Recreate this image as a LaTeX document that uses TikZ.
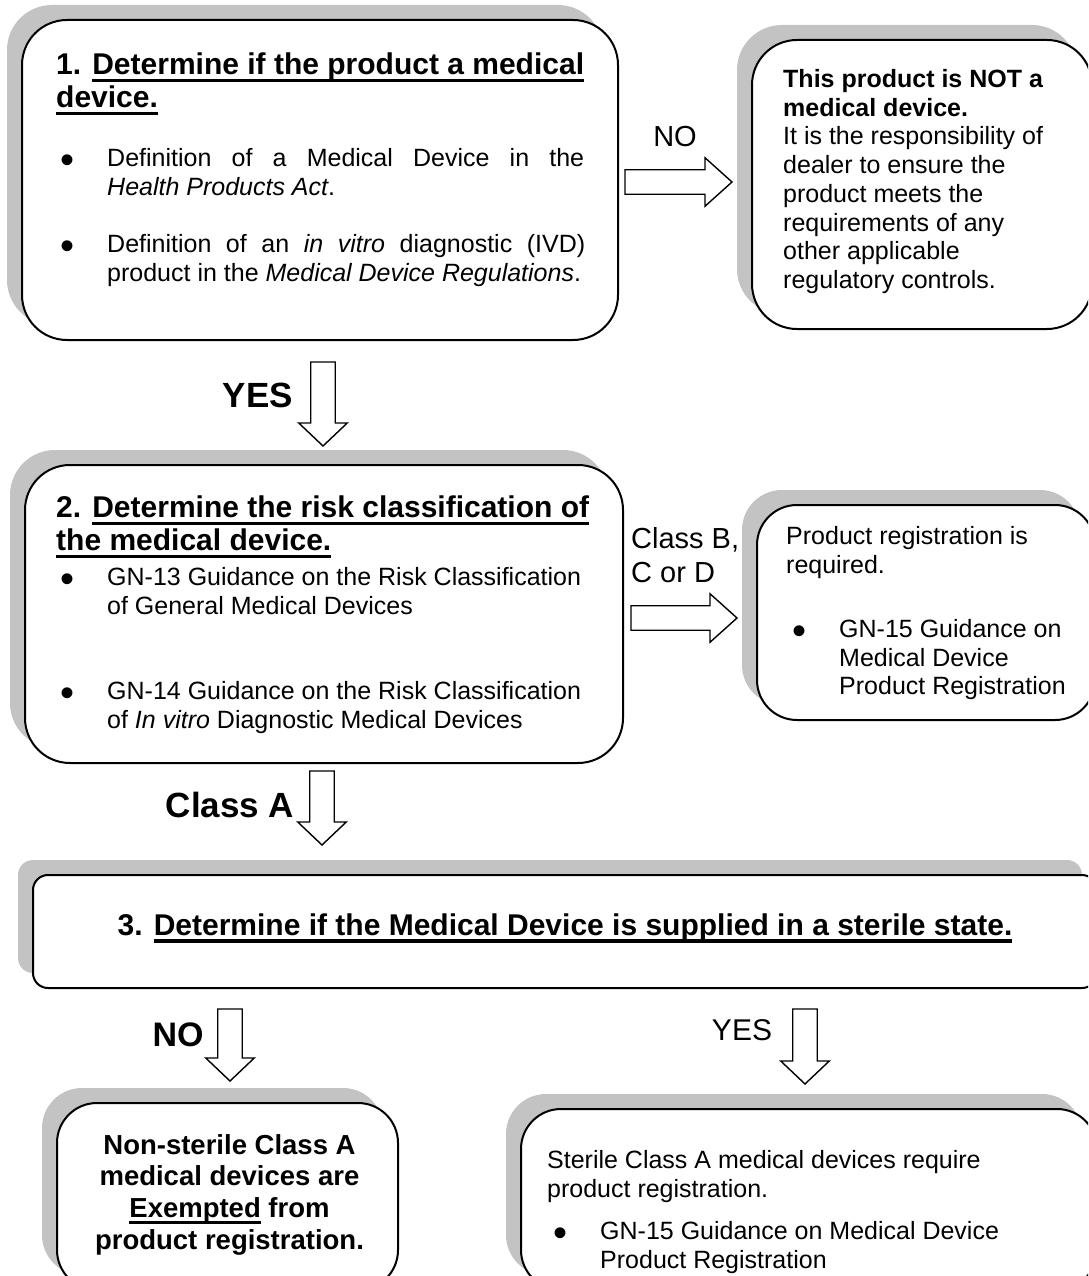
\documentclass[tikz,border=0pt]{standalone}
\usepackage{fontspec}
\setmainfont{Liberation Sans}
\usetikzlibrary{calc,shadows,positioning}
\definecolor{shadowgray}{RGB}{195,195,195}

% thick word-style underline
\newcommand{\ulbox}[1]{\leavevmode\setbox0=\hbox{#1}\rlap{\vrule width \wd0 height -0.14em depth 0.25em}\box0\relax}
% bullet hung in front of a paragraph
\newcommand{\bul}{\leavevmode\llap{\raisebox{-7.3pt}{\fontsize{40}{40}\selectfont\textbullet}\hspace{33pt}}}
% hollow block arrow: tail, tip, head length
\newcommand{\hollowarrow}[3]{%
  \path ($(#2)!#3!(#1)$) coordinate (hb);
  \draw[blockarrow] ($(#1)!12.25pt!90:(#2)$) -- ($(hb)!12.25pt!90:(#2)$) -- ($(hb)!24.25pt!90:(#2)$) -- (#2)
    -- ($(hb)!24.25pt!-90:(#2)$) -- ($(hb)!12.25pt!-90:(#2)$) -- ($(#1)!12.25pt!-90:(#2)$) -- cycle;}

\begin{document}
\begin{tikzpicture}[x=1pt,y=-1pt,
  roundbox/.style={draw, line width=2pt, fill=white, rounded corners=#1, inner sep=0pt,
    general shadow={fill=shadowgray, shadow xshift=-15pt, shadow yshift=15pt}},
  roundbox/.default=45pt,
  bodytext/.style={inner sep=0pt, anchor=north west, align=left, font=\fontsize{25}{28.75}\selectfont},
  headtext/.style={inner sep=0pt, anchor=north west, align=left, font=\fontsize{30}{33}\selectfont\bfseries},
  biglabel/.style={inner sep=0pt, font=\fontsize{35}{40}\selectfont\bfseries},
  arrowlabel/.style={inner sep=0pt, font=\fontsize{29}{34}\selectfont},
  blockarrow/.style={draw, line width=1.4pt, fill=white, line join=miter}]

\useasboundingbox (0,0) rectangle (1088,1276);
\clip (0,0) rectangle (1088,1276);

% boxes
\node[roundbox, minimum width=596pt, minimum height=320pt] (step1) at (320,180) {};
\node[roundbox, minimum width=340pt, minimum height=289pt] (notmd) at (922,184.5) {};
\node[roundbox, minimum width=598pt, minimum height=298pt] (step2) at (324,614) {};
\node[roundbox=40pt, minimum width=338pt, minimum height=215pt] (regreq) at (926,612.5) {};
\node[roundbox=15pt, minimum width=1064pt, minimum height=113pt] (step3) at (565,931.5) {};
\node[roundbox=40pt, minimum width=341pt, minimum height=187pt] (exempt) at (227.5,1196.5) {};
\node[roundbox=40pt, minimum width=576pt, minimum height=181pt] (sterile) at (809,1199.5) {};

% step 1
\node[headtext] at ($(step1.north west)+(35,34)$)
  {1. \ulbox{Determine if the product a medical}\\\ulbox{device.}};
\node[bodytext, text width=477pt, align=justify] at ($(step1.north west)+(86,129)$)
  {\bul Definition of a Medical Device in the\linebreak \textit{Health Products Act}.};
\node[bodytext, text width=478pt, align=justify] at ($(step1.north west)+(86,215)$)
  {\bul Definition of an \textit{in vitro} diagnostic (IVD)\linebreak product in the \textit{Medical Device Regulations}.};

\node[bodytext] at ($(notmd.north west)+(32,30)$)
  {\textbf{This product is NOT a}\\\textbf{medical device.}\\It is the responsibility of\\dealer to ensure the\\product meets the\\requirements of any\\other applicable\\regulatory controls.};

% step 2
\node[headtext] at ($(step2.north west)+(32,32)$)
  {2. \ulbox{Determine the risk classification of}\\\ulbox{the medical device.}};
\node[bodytext] at ($(step2.north west)+(83,103)$)
  {\bul GN-13 Guidance on the Risk Classification\\of General Medical Devices};
\node[bodytext] at ($(step2.north west)+(83,217)$)
  {\bul GN-14 Guidance on the Risk Classification\\of \textit{In vitro} Diagnostic Medical Devices};

\node[bodytext] at ($(regreq.north west)+(30,22)$) {Product registration is\\required.};
\node[bodytext] at ($(regreq.north west)+(83,115)$)
  {\bul GN-15 Guidance on\\Medical Device\\Product Registration};

% step 3
\node[headtext, anchor=base] at ($(step3.center)+(0,3.5)$)
  {3. \ulbox{Determine if the Medical Device is supplied in a sterile state.}};

\node[bodytext, anchor=north, align=center, font=\fontsize{27.5}{31.7}\selectfont\bfseries]
  at ($(exempt.north)+(2,32)$)
  {Non-sterile Class A\\medical devices are\\\ulbox{Exempted} from\\product registration.};

\node[bodytext] at ($(sterile.north west)+(27,42)$)
  {Sterile Class A medical devices require\\product registration.};
\node[bodytext] at ($(sterile.north west)+(80,113)$)
  {\bul GN-15 Guidance on Medical Device\\Product Registration};

% arrows
\coordinate (noT) at ($(step1.east)+(6,2)$);
\coordinate (noH) at ($(notmd.west)+(-19,-2.5)$);
\coordinate (yesT) at ($(step1.south)+(3,21)$);
\coordinate (yesH) at ($(step2.north)+(-1,-18)$);
\coordinate (bcdT) at ($(step2.east)+(7,4)$);
\coordinate (bcdH) at ($(regreq.west)+(-19,5.5)$);
\coordinate (clAT) at ($(step2.south)+(-2,7)$);
\coordinate (clAH) at ($(step3.north -| clAT)+(0,-29)$);
\coordinate (nsT) at ($(step3.south -| exempt.north)+(2.5,20)$);
\coordinate (nsH) at ($(exempt.north)+(2.5,-21)$);
\coordinate (stT) at ($(step3.south -| sterile.north)+(-4,20)$);
\coordinate (stH) at ($(sterile.north)+(-4,-24)$);

\hollowarrow{noT}{noH}{27pt}
\hollowarrow{yesT}{yesH}{23pt}
\hollowarrow{bcdT}{bcdH}{27pt}
\hollowarrow{clAT}{clAH}{23pt}
\hollowarrow{nsT}{nsH}{23pt}
\hollowarrow{stT}{stH}{23pt}

% arrow labels
\node[arrowlabel] (nolbl) at ($(noT)!0.5!(noH)+(-3.5,-45)$) {NO};
\node[biglabel] (yeslbl) at ($(yesT)!0.5!(yesH)+(-65,-9)$) {YES};
\node[arrowlabel, anchor=north west, align=left] (bcdlbl) at ($(bcdT)+(0,-91)$) {Class B,\\C or D};
\node[biglabel] (clAlbl) at ($(clAT)!0.5!(clAH)+(-92,-3)$) {Class A};
\node[biglabel, font=\fontsize{34}{40}\selectfont\bfseries] (nslbl) at ($(nsT)!0.5!(nsH)+(-52,-10)$) {NO};
\node[arrowlabel, font=\fontsize{30}{34}\selectfont] (stlbl) at ($(stT)!0.5!(stH)+(-63,-16.5)$) {YES};
\end{tikzpicture}
\end{document}
